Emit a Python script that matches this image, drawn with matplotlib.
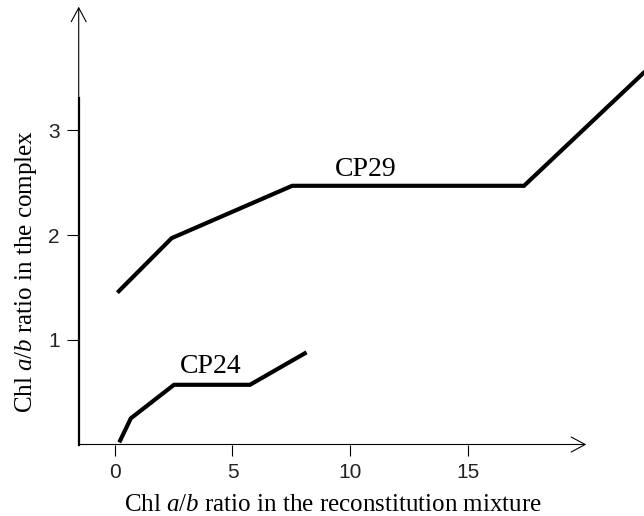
"""Chl a/b ratio in CP29 and CP24 complexes vs. reconstitution mixture."""

import matplotlib
matplotlib.use("Agg")
import matplotlib.pyplot as plt

plt.rcParams["mathtext.fontset"] = "custom"
plt.rcParams["mathtext.rm"] = "Liberation Serif"
plt.rcParams["mathtext.it"] = "Liberation Serif:italic"

# data
cp29_x = [0.12, 2.42, 7.53, 17.36, 23.0]
cp29_y = [1.45, 1.97, 2.47, 2.47, 3.67]
cp24_x = [0.20, 0.69, 2.52, 5.74, 8.14]
cp24_y = [0.02, 0.25, 0.57, 0.57, 0.88]

x_ticks = [0, 5, 10, 15]
y_ticks = [1, 2, 3]

X_MIN, X_MAX = -1.52, 20.0
Y_MIN, Y_MAX = 0.0, 4.18

SERIF = "Liberation Serif"
SANS = "Liberation Sans"


def main():
    fig = plt.figure(figsize=(6.44, 5.16), dpi=100)
    W, H = 644, 516
    left, right, top, bottom = 78.7, 586.3, 6.7, 444.5
    ax = fig.add_axes([left / W, 1 - bottom / H, (right - left) / W, (bottom - top) / H])
    ax.set_xlim(X_MIN, X_MAX)
    ax.set_ylim(Y_MIN, Y_MAX)

    for s in ["top", "right", "bottom"]:
        ax.spines[s].set_visible(False)
    ax.spines["left"].set_linewidth(1.6)
    ax.spines["left"].set_bounds(0, 3.31)

    arrow = dict(arrowstyle="->, head_length=0.5, head_width=0.27", lw=0.8,
                 color="black", mutation_scale=20, shrinkA=0, shrinkB=0)
    ax.annotate("", xy=(1, 0), xytext=(0, 0), xycoords="axes fraction",
                arrowprops=arrow, annotation_clip=False)
    ax.annotate("", xy=(0, 1), xytext=(0, 0), xycoords="axes fraction",
                arrowprops=arrow, annotation_clip=False)

    ax.plot(cp29_x, cp29_y, color="black", lw=3, solid_capstyle="butt",
            solid_joinstyle="miter", clip_on=False)
    ax.plot(cp24_x, cp24_y, color="black", lw=3, solid_capstyle="butt",
            solid_joinstyle="miter", clip_on=False)

    ax.text(10.63, 2.63, "CP29", fontsize=20, family=SERIF, ha="center", va="center")
    ax.text(4.08, 0.74, "CP24", fontsize=20, family=SERIF, ha="center", va="center")

    ax.set_xticks(x_ticks)
    ax.set_yticks(y_ticks)
    ax.tick_params(axis="x", direction="out", length=8, width=0.8, pad=5, labelsize=15)
    ax.tick_params(axis="y", direction="out", length=8.6, width=0.8, pad=5, labelsize=15)
    for lab in ax.get_xticklabels() + ax.get_yticklabels():
        lab.set_family(SANS)
        lab.set_color("#222222")

    ax.text(0.5, -0.1526, r"Chl $a/b$ ratio in the reconstitution mixture",
            transform=ax.transAxes, fontsize=18, family=SERIF,
            ha="center", va="baseline")
    ax.text(-0.104, 0.394, r"Chl $a/b$ ratio in the complex",
            transform=ax.transAxes, fontsize=18, family=SERIF,
            ha="center", va="center", rotation=90)

    fig.savefig("out.png", dpi=100)
    plt.close(fig)


if __name__ == "__main__":
    main()
